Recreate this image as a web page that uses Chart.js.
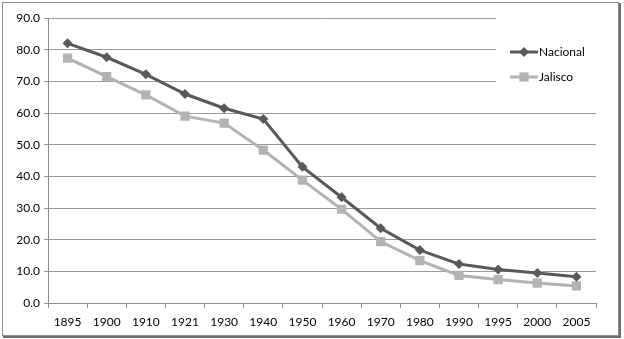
<!DOCTYPE html>
<html>
<head>
<meta charset="utf-8">
<script src="https://cdn.jsdelivr.net/npm/chart.js@4"></script>
<style>
  html, body { margin: 0; padding: 0; background: #fff; }
  #wrap { width: 624px; height: 339px; }
</style>
</head>
<body>
<div id="wrap"><canvas id="chart" width="624" height="339"></canvas></div>
<script>
// categories (years) and values
var years = ['1895', '1900', '1910', '1921', '1930', '1940', '1950', '1960', '1970', '1980', '1990', '1995', '2000', '2005'];
var nacional = [82.0, 77.6, 72.2, 66.0, 61.5, 58.1, 43.0, 33.4, 23.6, 16.7, 12.3, 10.6, 9.5, 8.3];
var jalisco = [77.3, 71.5, 65.7, 59.0, 56.8, 48.3, 38.8, 29.6, 19.4, 13.4, 8.7, 7.4, 6.3, 5.4];
var yTicks = [0, 10, 20, 30, 40, 50, 60, 70, 80, 90];

var darkCol = '#595959';
var lightCol = '#b3b3b3';
var fontFam = 'Lato, "Open Sans", sans-serif';

// outer frame of the picture
var framePlugin = {
	id: 'frame',
	beforeDraw: function(chart) {
		var ctx = chart.ctx;
		ctx.save();
		ctx.fillStyle = '#fff';
		ctx.fillRect(0, 0, chart.width, chart.height);
		ctx.strokeStyle = '#8c8c8c';
		ctx.lineWidth = 1;
		ctx.strokeRect(2.5, 2.5, 616, 333);
		ctx.strokeStyle = '#6e6e6e';
		ctx.lineWidth = 2;
		ctx.beginPath();
		ctx.moveTo(3, 337);
		ctx.lineTo(620, 337);
		ctx.lineTo(620, 3);
		ctx.stroke();
		ctx.restore();
	}
};

// legend sitting inside the plot, on a white box over the grid
var legendPlugin = {
	id: 'boxLegend',
	afterDatasetsDraw: function(chart) {
		var ctx = chart.ctx;
		ctx.save();
		ctx.fillStyle = '#fff';
		ctx.fillRect(496, 12, 101, 76);
		var items = [
			{ label: 'Nacional', color: darkCol, y: 52, ds: 0 },
			{ label: 'Jalisco', color: lightCol, y: 77, ds: 1 }
		];
		items.forEach(function(it) {
			var ds = chart.data.datasets[it.ds];
			ctx.strokeStyle = it.color;
			ctx.lineWidth = 3;
			ctx.beginPath();
			ctx.moveTo(510, it.y);
			ctx.lineTo(538, it.y);
			ctx.stroke();
			ctx.fillStyle = it.color;
			Chart.helpers.drawPoint(ctx, {
				pointStyle: ds.pointStyle,
				radius: ds.pointRadius,
				borderWidth: 0
			}, 524, it.y);
			ctx.fillStyle = '#000';
			ctx.font = '12px ' + fontFam;
			ctx.textBaseline = 'middle';
			ctx.textAlign = 'left';
			ctx.fillText(it.label, 539, it.y);
		});
		ctx.restore();
	}
};

var ctx = document.getElementById('chart');
var chart = new Chart(ctx, {
	type: 'line',
	data: {
		labels: years,
		datasets: [{
			label: 'Nacional',
			data: nacional,
			borderColor: darkCol,
			backgroundColor: darkCol,
			borderWidth: 3,
			pointStyle: 'rectRot',
			pointRadius: 5,
			pointBorderWidth: 0,
			tension: 0
		}, {
			label: 'Jalisco',
			data: jalisco,
			borderColor: lightCol,
			backgroundColor: lightCol,
			borderWidth: 3,
			pointStyle: 'rect',
			pointRadius: 6.5,
			pointBorderWidth: 0,
			tension: 0
		}]
	},
	options: {
		responsive: false,
		animation: false,
		layout: { padding: { left: 0, top: 18, right: 28, bottom: 0 } },
		plugins: {
			legend: { display: false },
			tooltip: { enabled: false }
		},
		scales: {
			x: {
				offset: true,
				grid: {
					offset: true,
					drawOnChartArea: false,
					drawTicks: true,
					tickLength: 5,
					color: '#8c8c8c'
				},
				border: { color: '#8c8c8c', width: 1 },
				ticks: {
					color: '#000',
					padding: 7,
					maxRotation: 0,
					autoSkip: false,
					font: { family: fontFam, size: 12 }
				},
				afterFit: function(scale) { scale.height = 36; }
			},
			y: {
				min: 0,
				max: 90,
				afterBuildTicks: function(scale) {
					scale.ticks = yTicks.map(function(v) { return { value: v }; });
				},
				grid: {
					color: '#9a9a9a',
					tickLength: 4
				},
				border: { color: '#8c8c8c', width: 1 },
				ticks: {
					color: '#000',
					padding: 4,
					font: { family: fontFam, size: 12 },
					callback: function(v) { return Number(v).toFixed(1); }
				},
				afterFit: function(scale) { scale.width = 48; }
			}
		}
	},
	plugins: [framePlugin, legendPlugin]
});
</script>
</body>
</html>
